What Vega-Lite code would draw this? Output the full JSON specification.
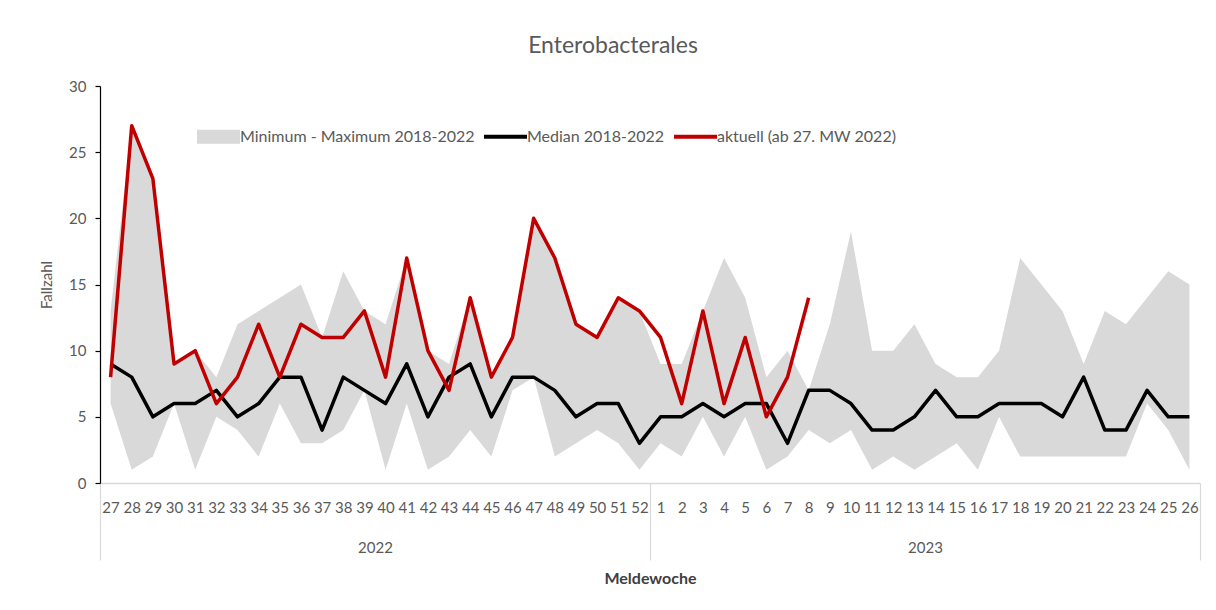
{
  "$schema": "https://vega.github.io/schema/vega-lite/v6.json",
  "autosize": "none",
  "width": 1100,
  "height": 397,
  "padding": {"left": 100, "top": 86, "right": 16, "bottom": 127},
  "background": "white",
  "config": {
    "view": {"stroke": null},
    "font": "Lato",
    "axis": {"grid": false, "labelFont": "Lato", "titleFont": "Lato", "labelColor": "#595959", "titleColor": "#595959"}
  },
  "title": {
    "text": "Enterobacterales",
    "fontSize": 23,
    "fontWeight": "normal",
    "color": "#595959",
    "font": "Lato",
    "anchor": "middle",
    "dx": -37,
    "offset": 21
  },
  "data": {
    "values": [
      {"idx": 0, "week": 27, "min": 6, "max": 13, "med": 9, "cur": 8},
      {"idx": 1, "week": 28, "min": 1, "max": 27, "med": 8, "cur": 27},
      {"idx": 2, "week": 29, "min": 2, "max": 23, "med": 5, "cur": 23},
      {"idx": 3, "week": 30, "min": 6, "max": 9, "med": 6, "cur": 9},
      {"idx": 4, "week": 31, "min": 1, "max": 10, "med": 6, "cur": 10},
      {"idx": 5, "week": 32, "min": 5, "max": 8, "med": 7, "cur": 6},
      {"idx": 6, "week": 33, "min": 4, "max": 12, "med": 5, "cur": 8},
      {"idx": 7, "week": 34, "min": 2, "max": 13, "med": 6, "cur": 12},
      {"idx": 8, "week": 35, "min": 6, "max": 14, "med": 8, "cur": 8},
      {"idx": 9, "week": 36, "min": 3, "max": 15, "med": 8, "cur": 12},
      {"idx": 10, "week": 37, "min": 3, "max": 11, "med": 4, "cur": 11},
      {"idx": 11, "week": 38, "min": 4, "max": 16, "med": 8, "cur": 11},
      {"idx": 12, "week": 39, "min": 7, "max": 13, "med": 7, "cur": 13},
      {"idx": 13, "week": 40, "min": 1, "max": 12, "med": 6, "cur": 8},
      {"idx": 14, "week": 41, "min": 6, "max": 17, "med": 9, "cur": 17},
      {"idx": 15, "week": 42, "min": 1, "max": 10, "med": 5, "cur": 10},
      {"idx": 16, "week": 43, "min": 2, "max": 9, "med": 8, "cur": 7},
      {"idx": 17, "week": 44, "min": 4, "max": 14, "med": 9, "cur": 14},
      {"idx": 18, "week": 45, "min": 2, "max": 8, "med": 5, "cur": 8},
      {"idx": 19, "week": 46, "min": 7, "max": 11, "med": 8, "cur": 11},
      {"idx": 20, "week": 47, "min": 8, "max": 20, "med": 8, "cur": 20},
      {"idx": 21, "week": 48, "min": 2, "max": 17, "med": 7, "cur": 17},
      {"idx": 22, "week": 49, "min": 3, "max": 12, "med": 5, "cur": 12},
      {"idx": 23, "week": 50, "min": 4, "max": 11, "med": 6, "cur": 11},
      {"idx": 24, "week": 51, "min": 3, "max": 14, "med": 6, "cur": 14},
      {"idx": 25, "week": 52, "min": 1, "max": 13, "med": 3, "cur": 13},
      {"idx": 26, "week": 1, "min": 3, "max": 9, "med": 5, "cur": 11},
      {"idx": 27, "week": 2, "min": 2, "max": 9, "med": 5, "cur": 6},
      {"idx": 28, "week": 3, "min": 5, "max": 13, "med": 6, "cur": 13},
      {"idx": 29, "week": 4, "min": 2, "max": 17, "med": 5, "cur": 6},
      {"idx": 30, "week": 5, "min": 5, "max": 14, "med": 6, "cur": 11},
      {"idx": 31, "week": 6, "min": 1, "max": 8, "med": 6, "cur": 5},
      {"idx": 32, "week": 7, "min": 2, "max": 10, "med": 3, "cur": 8},
      {"idx": 33, "week": 8, "min": 4, "max": 7, "med": 7, "cur": 14},
      {"idx": 34, "week": 9, "min": 3, "max": 12, "med": 7, "cur": null},
      {"idx": 35, "week": 10, "min": 4, "max": 19, "med": 6, "cur": null},
      {"idx": 36, "week": 11, "min": 1, "max": 10, "med": 4, "cur": null},
      {"idx": 37, "week": 12, "min": 2, "max": 10, "med": 4, "cur": null},
      {"idx": 38, "week": 13, "min": 1, "max": 12, "med": 5, "cur": null},
      {"idx": 39, "week": 14, "min": 2, "max": 9, "med": 7, "cur": null},
      {"idx": 40, "week": 15, "min": 3, "max": 8, "med": 5, "cur": null},
      {"idx": 41, "week": 16, "min": 1, "max": 8, "med": 5, "cur": null},
      {"idx": 42, "week": 17, "min": 5, "max": 10, "med": 6, "cur": null},
      {"idx": 43, "week": 18, "min": 2, "max": 17, "med": 6, "cur": null},
      {"idx": 44, "week": 19, "min": 2, "max": 15, "med": 6, "cur": null},
      {"idx": 45, "week": 20, "min": 2, "max": 13, "med": 5, "cur": null},
      {"idx": 46, "week": 21, "min": 2, "max": 9, "med": 8, "cur": null},
      {"idx": 47, "week": 22, "min": 2, "max": 13, "med": 4, "cur": null},
      {"idx": 48, "week": 23, "min": 2, "max": 12, "med": 4, "cur": null},
      {"idx": 49, "week": 24, "min": 6, "max": 14, "med": 7, "cur": null},
      {"idx": 50, "week": 25, "min": 4, "max": 16, "med": 5, "cur": null},
      {"idx": 51, "week": 26, "min": 1, "max": 15, "med": 5, "cur": null}
    ]
  },
  "encoding": {
    "x": {
      "field": "idx",
      "type": "quantitative",
      "scale": {"domain": [-0.5, 51.5], "nice": false, "zero": false},
      "axis": {
        "title": "Meldewoche",
        "titleFontSize": 16,
        "titleFontWeight": "bold",
        "titleColor": "#404040",
        "titlePadding": 10,
        "values": [-0.5, 0, 1, 2, 3, 4, 5, 6, 7, 8, 9, 10, 11, 12, 12.5, 13, 14, 15, 16, 17, 18, 19, 20, 21, 22, 23, 24, 25, 25.5, 26, 27, 28, 29, 30, 31, 32, 33, 34, 35, 36, 37, 38, 38.5, 39, 40, 41, 42, 43, 44, 45, 46, 47, 48, 49, 50, 51, 51.5],
        "labelExpr": "datum.value === 12.5 ? '2022' : datum.value === 38.5 ? '2023' : (datum.value % 1 !== 0) ? '' : '' + (datum.value < 26 ? datum.value + 27 : datum.value - 25)",
        "labelOverlap": false,
        "labelFlush": false,
        "labelBound": false,
        "labelFontSize": 15,
        "labelPadding": {"condition": {"test": "datum.value === 12.5 || datum.value === 38.5", "value": -20}, "value": -60},
        "domainColor": "#d9d9d9",
        "domainWidth": 1.5,
        "ticks": true,
        "tickSize": 77,
        "tickColor": "#d9d9d9",
        "tickWidth": 1.2,
        "tickOpacity": {"condition": {"test": "datum.value === -0.5 || datum.value === 25.5 || datum.value === 51.5", "value": 1}, "value": 0}
      }
    }
  },
  "layer": [
    {
      "mark": {"type": "area", "color": "#d9d9d9"},
      "encoding": {
        "y": {
          "field": "min",
          "type": "quantitative",
          "scale": {"domain": [0, 30], "nice": false},
          "axis": {
            "title": "Fallzahl",
            "titleFontSize": 15,
            "titleFontWeight": "normal",
            "titlePadding": 14,
            "values": [0, 5, 10, 15, 20, 25, 30],
            "labelFontSize": 15,
            "labelPadding": 9,
            "domainColor": "black",
            "domainWidth": 1.2,
            "tickColor": "black",
            "tickSize": 5,
            "tickWidth": 1.2
          }
        },
        "y2": {"field": "max"},
        "color": {
          "datum": "Minimum - Maximum 2018-2022",
          "type": "nominal",
          "scale": {
            "domain": ["Minimum - Maximum 2018-2022", "Median 2018-2022", "aktuell (ab 27. MW 2022)"],
            "range": ["#d9d9d9", "#000000", "#c00000"]
          },
          "legend": {
            "title": null,
            "orient": "none",
            "direction": "horizontal",
            "legendX": 97,
            "legendY": 29,
            "symbolSize": 1849,
            "labelFont": "Lato",
            "labelFontSize": 16,
            "labelColor": "#595959",
            "labelOffset": 0,
            "labelLimit": 400,
            "columnPadding": 9,
            "encode": {
              "symbols": {
                "update": {
                  "shape": {"signal": "datum.value === 'Minimum - Maximum 2018-2022' ? 'M-1,-0.33H1V0.33H-1Z' : 'M-1,-0.33M-1,-0.09H1V0.09H-1ZM1,0.33'"},
                  "fill": {"signal": "datum.value === 'Minimum - Maximum 2018-2022' ? '#d9d9d9' : datum.value === 'Median 2018-2022' ? '#000000' : '#c00000'"},
                  "stroke": {"value": "transparent"},
                  "strokeWidth": {"value": 0},
                  "opacity": {"value": 1}
                }
              }
            }
          }
        }
      }
    },
    {
      "mark": {"type": "line", "strokeWidth": 3.5, "strokeJoin": "round"},
      "encoding": {
        "y": {"field": "med", "type": "quantitative"},
        "color": {"datum": "Median 2018-2022", "type": "nominal"}
      }
    },
    {
      "transform": [{"filter": "datum.cur != null"}],
      "mark": {"type": "line", "strokeWidth": 3.5, "strokeJoin": "round"},
      "encoding": {
        "y": {"field": "cur", "type": "quantitative"},
        "color": {"datum": "aktuell (ab 27. MW 2022)", "type": "nominal"}
      }
    }
  ]
}
